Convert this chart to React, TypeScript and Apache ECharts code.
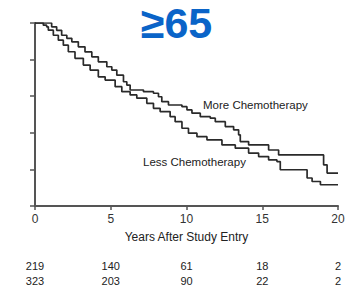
import React, { useEffect, useRef } from "react";
import * as echarts from "echarts";

const title = "≥65";
const xTicks = [0, 5, 10, 15, 20];
const atRiskMore = [219, 140, 61, 18, 2];
const atRiskLess = [323, 203, 90, 22, 2];

const moreYears = [0, 0.77, 1.1, 1.43, 1.76, 2.1, 2.43, 2.86, 3.3, 3.75, 4.18, 4.74, 5.07, 5.4, 5.84, 6.06, 6.28, 7.16, 7.82, 8.15, 8.37, 8.81, 9.7, 10.03, 10.36, 10.91, 11.57, 11.9, 12.56, 13.11, 13.44, 13.55, 14.1, 15.42, 16.08, 19.05, 19.28, 20];
const moreSurv = [1.0, 1.0, 0.979, 0.96, 0.933, 0.916, 0.897, 0.87, 0.842, 0.815, 0.788, 0.761, 0.743, 0.715, 0.679, 0.661, 0.634, 0.625, 0.616, 0.597, 0.57, 0.552, 0.543, 0.525, 0.507, 0.488, 0.48, 0.461, 0.434, 0.416, 0.389, 0.352, 0.334, 0.306, 0.279, 0.225, 0.18, 0.18];

const lessYears = [0, 0.55, 0.77, 0.88, 1.21, 1.54, 1.87, 2.2, 2.64, 3.19, 3.64, 4.18, 4.63, 5.29, 5.73, 6.28, 6.72, 7.38, 7.82, 8.26, 8.92, 9.25, 9.7, 10.13, 10.69, 11.35, 12.34, 13.22, 14.1, 14.76, 15.42, 15.97, 16.19, 17.96, 18.29, 18.84, 20];
const lessSurv = [1.0, 0.988, 0.979, 0.961, 0.933, 0.906, 0.879, 0.843, 0.807, 0.77, 0.743, 0.706, 0.688, 0.652, 0.625, 0.607, 0.589, 0.561, 0.534, 0.516, 0.488, 0.461, 0.425, 0.398, 0.379, 0.361, 0.334, 0.316, 0.289, 0.27, 0.252, 0.243, 0.198, 0.153, 0.134, 0.116, 0.116];

const FONT = "'Liberation Sans', Arial, Helvetica, sans-serif";

export default function App() {
  const ref = useRef<HTMLDivElement>(null);
  useEffect(() => {
    if (!ref.current) return;
    const chart = echarts.init(ref.current, null, { renderer: "svg" });
    const riskAxis = (vals: number[], offset: number) => ({
      type: "value",
      min: 0,
      max: 20,
      interval: 5,
      position: "bottom",
      offset,
      axisLine: { show: false },
      axisTick: { show: false },
      splitLine: { show: false },
      axisLabel: {
        margin: 0,
        verticalAlign: "middle",
        fontFamily: FONT,
        fontSize: 11,
        color: "#222",
        formatter: (v: number) => {
          const i = xTicks.indexOf(v);
          return i >= 0 ? String(vals[i]) : "";
        },
      },
    });
    chart.setOption({
      animation: false,
      grid: { left: 35, right: 20, top: 23, bottom: 85, containLabel: false },
      xAxis: [
        {
          type: "value",
          min: 0,
          max: 20,
          interval: 5,
          name: "Years After Study Entry",
          nameLocation: "middle",
          nameGap: 25,
          nameTextStyle: { fontFamily: FONT, fontSize: 12, color: "#222" },
          axisLine: { lineStyle: { color: "#555", width: 2 } },
          axisTick: { length: 4, lineStyle: { color: "#555", width: 1.5 } },
          splitLine: { show: false },
          axisLabel: { margin: 7, fontFamily: FONT, fontSize: 12, color: "#333" },
        },
        riskAxis(atRiskMore, 60),
        riskAxis(atRiskLess, 75),
      ],
      yAxis: {
        type: "value",
        min: 0,
        max: 1,
        interval: 0.2,
        axisLine: { show: true, lineStyle: { color: "#555", width: 2 } },
        axisTick: { show: true, length: 5, lineStyle: { color: "#555", width: 1.5 } },
        axisLabel: { show: false },
        splitLine: { show: false },
      },
      series: [
        {
          name: "More Chemotherapy",
          type: "line",
          step: "end",
          symbol: "none",
          xAxisIndex: 0,
          data: moreYears.map((x, i) => [x, moreSurv[i]]),
          lineStyle: { color: "#2a2a2a", width: 1.7 },
        },
        {
          name: "Less Chemotherapy",
          type: "line",
          step: "end",
          symbol: "none",
          xAxisIndex: 0,
          data: lessYears.map((x, i) => [x, lessSurv[i]]),
          lineStyle: { color: "#2a2a2a", width: 1.7 },
        },
      ],
      graphic: [
        {
          type: "text",
          x: 176.5,
          y: 23,
          style: {
            text: title,
            font: `bold 43px ${FONT}`,
            fill: "#0A64C8",
            align: "center",
            verticalAlign: "middle",
          },
        },
        {
          type: "text",
          x: 203,
          y: 105,
          style: {
            text: "More Chemotherapy",
            font: `11.5px ${FONT}`,
            fill: "#222",
            align: "left",
            verticalAlign: "middle",
          },
        },
        {
          type: "text",
          x: 143,
          y: 162,
          style: {
            text: "Less Chemotherapy",
            font: `11.5px ${FONT}`,
            fill: "#222",
            align: "left",
            verticalAlign: "middle",
          },
        },
      ],
    });
    return () => chart.dispose();
  }, []);
  return <div ref={ref} style={{ width: 358, height: 291, position: "absolute", left: 0, top: 0 }} />;
}
